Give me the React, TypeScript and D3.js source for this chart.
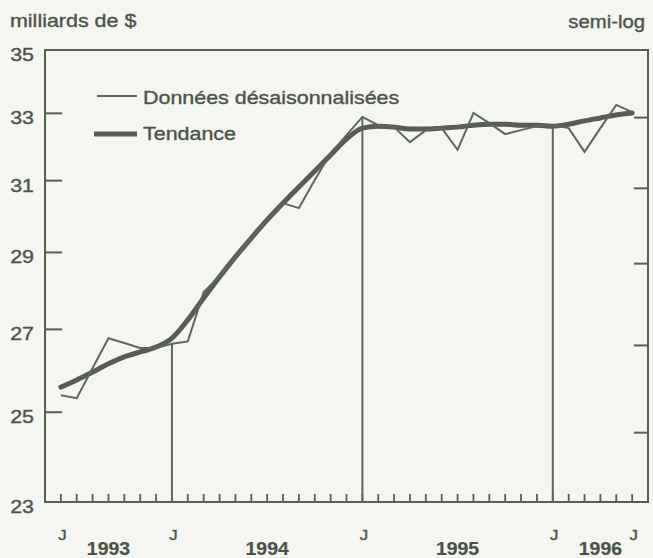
import React from "react";
import * as d3 from "d3";

// Months: index 0 = May 1993 (left edge) ... 38 = July 1996 (right edge)
const startYear = 1993;
const startMonth = 4; // May (0-based)
const totalMonths = 38;

// Monthly observations from June 1993 (index 1) to June 1996 (index 37)
const seasonallyAdjusted = [
  25.40, 25.33, 26.05, 26.78, 26.66, 26.54, 26.54, 26.64, 26.70, 27.95,
  28.37, 28.88, 29.39, 29.89, 30.36, 30.22, 31.02, 31.80, 32.34, 32.89,
  32.64, 32.58, 32.13, 32.49, 32.55, 31.90, 33.01, 32.70, 32.37, 32.49,
  32.61, 32.64, 32.55, 31.84, 32.55, 33.26, 33.04,
];
const trend = [
  25.59, 25.76, 25.95, 26.15, 26.32, 26.44, 26.56, 26.78, 27.24, 27.80,
  28.35, 28.88, 29.39, 29.89, 30.36, 30.82, 31.28, 31.75, 32.22, 32.55,
  32.61, 32.58, 32.52, 32.52, 32.55, 32.58, 32.64, 32.67, 32.67, 32.64,
  32.64, 32.61, 32.67, 32.77, 32.86, 32.95, 33.01,
];
const firstDataIndex = 1;

const leftTicks = [23, 25, 27, 29, 31, 33, 35];
const rightTicks = [24.53, 26.6, 28.7, 30.78, 32.87];
const monthLabels = [
  { index: 1, label: "J" },
  { index: 8, label: "J" },
  { index: 20, label: "J" },
  { index: 32, label: "J" },
  { index: 37, label: "J" },
];
const yearDividers = [8, 20, 32];
const years = [1993, 1994, 1995, 1996];

const W = 653;
const H = 558;
const M = { left: 45, right: 648, top: 50, bottom: 502 };

const lineColor = "#56604f";
const dataColor = "#5b6a55";
const trendColor = "#585d54";
const textColor = "#4a5446";
const FONT = "'Liberation Sans', Arial, Helvetica, sans-serif";

function T({ x, y, children, size = 18.5, anchor = "start", weight = "normal", sx = 1.16 }: any) {
  return (
    <text
      transform={`translate(${x},${y}) scale(${sx},1)`}
      fontFamily={FONT}
      fontSize={size}
      fontWeight={weight}
      textAnchor={anchor}
      fill={textColor}
      stroke={textColor}
      strokeWidth={weight === "bold" ? 0.2 : 0.35}
    >
      {children}
    </text>
  );
}

export default function App() {
  const x = d3.scaleLinear().domain([0, totalMonths]).range([M.left, M.right]);
  const y = d3.scaleLog().domain([23, 35]).range([M.bottom, M.top]);

  const dataPts: [number, number][] = seasonallyAdjusted.map((v, i) => [x(i + firstDataIndex), y(v)]);
  const trendPts: [number, number][] = trend.map((v, i) => [x(i + firstDataIndex), y(v)]);

  const dataLine = d3.line().curve(d3.curveLinear)(dataPts) || "";
  const trendLine = d3.line().curve(d3.curveMonotoneX)(trendPts) || "";

  const monthTicks = d3.range(1, totalMonths);

  const yearSpans = years.map((yr) => {
    const s = (yr - startYear) * 12 - startMonth;
    const e = s + 12;
    const a = Math.max(0, s);
    const b = Math.min(totalMonths, e);
    return { yr, cx: (x(a) + x(b)) / 2 };
  });

  return (
    <svg
      width={W}
      height={H}
      style={{ position: "absolute", left: 0, top: 0, background: "#f5f5f2" }}
    >
      <rect x={0} y={0} width={W} height={H} fill="#f5f5f2" />

      {/* frame */}
      <rect
        x={M.left}
        y={M.top}
        width={M.right - M.left}
        height={M.bottom - M.top}
        fill="none"
        stroke={lineColor}
        strokeWidth={2}
      />

      {/* left ticks */}
      {leftTicks.map((t) => (
        <g key={"l" + t}>
          <line x1={M.left} x2={M.left + 17} y1={y(t)} y2={y(t)} stroke={lineColor} strokeWidth={2} />
          <T x={34} y={y(t) + 11} anchor="end">
            {t}
          </T>
        </g>
      ))}

      {/* right ticks */}
      {rightTicks.map((t) => (
        <line key={"r" + t} x1={M.right - 14} x2={M.right} y1={y(t)} y2={y(t)} stroke={lineColor} strokeWidth={2} />
      ))}

      {/* month ticks */}
      {monthTicks.map((m) => (
        <line key={"m" + m} x1={x(m)} x2={x(m)} y1={M.bottom} y2={M.bottom - 8} stroke={lineColor} strokeWidth={1.8} />
      ))}

      {/* year dividers up to data */}
      {yearDividers.map((m) => (
        <line
          key={"d" + m}
          x1={x(m)}
          x2={x(m)}
          y1={M.bottom}
          y2={y(seasonallyAdjusted[m - firstDataIndex])}
          stroke={dataColor}
          strokeWidth={2}
        />
      ))}

      {/* series */}
      <path d={trendLine} fill="none" stroke={trendColor} strokeWidth={5} strokeLinecap="round" strokeLinejoin="round" />
      <path d={dataLine} fill="none" stroke={dataColor} strokeWidth={2} strokeLinejoin="miter" />

      {/* month labels */}
      {monthLabels.map((l) => (
        <T key={"ml" + l.index} x={x(l.index) + 1.5} y={540} size={14.5} anchor="middle">
          {l.label}
        </T>
      ))}
      {yearSpans.map((s) => (
        <T key={"y" + s.yr} x={s.cx} y={555} size={18} weight="bold" anchor="middle" sx={1.08}>
          {s.yr}
        </T>
      ))}

      {/* titles */}
      <T x={10} y={27}>milliards de $</T>
      <T x={645} y={28} size={17.5} anchor="end">semi-log</T>

      {/* legend */}
      <line x1={97} x2={137} y1={96} y2={96} stroke={dataColor} strokeWidth={2} />
      <T x={143} y={104}>Données désaisonnalisées</T>
      <line x1={94} x2={137} y1={134} y2={134} stroke={trendColor} strokeWidth={5} />
      <T x={143} y={140}>Tendance</T>
    </svg>
  );
}
